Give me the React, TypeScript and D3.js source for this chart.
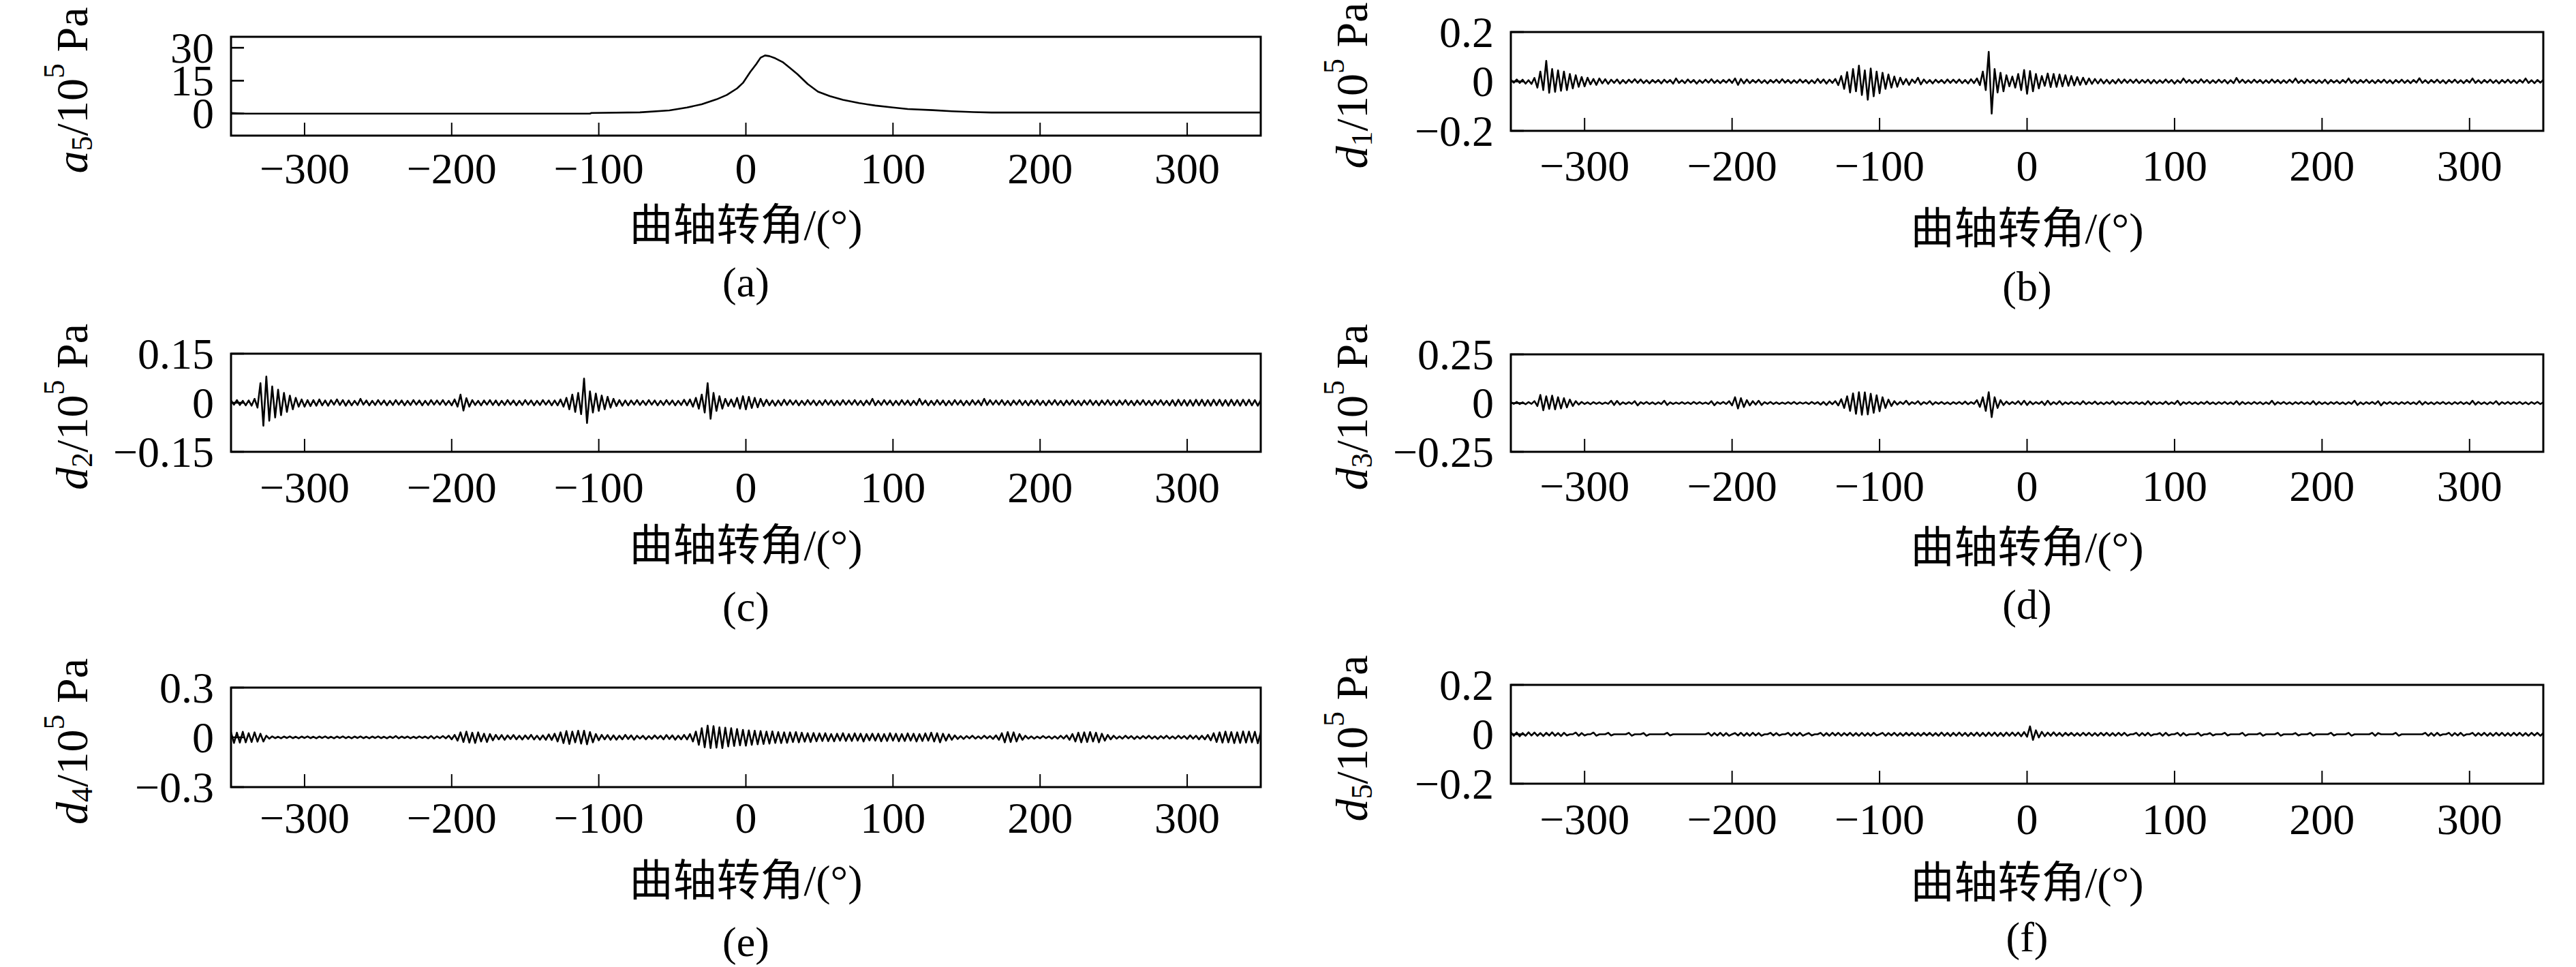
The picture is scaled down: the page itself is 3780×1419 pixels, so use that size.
import React, { useEffect, useRef } from "react";
import * as d3 from "d3";

const WIDTH = 3780;
const HEIGHT = 1419;

// crank angle axis (°)
const angleDomain: [number, number] = [-350, 350];
const angleTicks = [-300, -200, -100, 0, 100, 200, 300];

// approximation a5 (10^5 Pa)
const a5Angles = [-350, -340, -106, -105, -72, -52, -40, -30, -20, -13, -6, -2, 3, 7, 10, 13, 16, 20, 25, 30, 35, 42, 49, 57, 66, 77, 88, 100, 110, 127, 140, 155, 167, 200, 350];
const a5Values = [0.3, 0.0, 0.0, 0.3, 0.6, 1.5, 2.8, 4.3, 6.5, 8.5, 11.5, 14, 19, 22.5, 25.5, 26.5, 26.2, 25.2, 23.5, 20.8, 18, 13.5, 10, 8, 6.3, 4.8, 3.7, 2.8, 2.1, 1.6, 1.1, 0.7, 0.5, 0.5, 0.5];

// details d1..d5, one sample every 2° from -350° to 350°, in 10^-3 x 10^5 Pa
const detailStart = -350;
const detailStep = 2;

const d1Values = [
  6, -5, 8, -6, 7, -9, 5, -10, 14, -25,
  40, -35, 83, -46, 50, -42, 45, -38, 40, -35,
  30, -28, 25, -22, 18, -20, 15, -12, 10, -14,
  12, -8, 9, -10, 7, -6, 8, -9, 6, -7,
  7, -5, 9, -6, 8, -7, 5, -8, 6, -5,
  6, -8, 7, -5, 6, -9, 12, -6, 5, -7,
  8, -5, 6, -9, 5, -6, 7, -5, 9, -6,
  5, -7, 6, -5, 8, -6, 12, -14, 10, -8,
  8, -7, 6, -5, 7, -6, 5, -8, 6, -5,
  7, -6, 9, -5, 6, -7, 5, -6, 8, -5,
  6, -8, 5, -7, 10, -6, 8, -9, 7, -6,
  10, -15, 22, -30, 38, -45, 50, -40, 64, -55,
  45, -74, 52, -60, 40, -48, 35, -30, 28, -25,
  20, -22, 15, -12, 10, -14, 8, -6, 15, -12,
  8, -7, 6, -8, 7, -5, 6, -7, 8, -6,
  7, -6, 8, -7, 6, -8, 9, -7, 12, -15,
  40, -35, 120, -130, 50, -45, 35, -40, 25, -20,
  20, -25, 30, -35, 46, -50, 42, -40, 30, -28,
  22, -18, 32, -23, 30, -22, 28, -20, 25, -18,
  22, -16, 18, -14, 15, -12, 12, -10, 10, -8,
  9, -8, 7, -9, 6, -8, 9, -7, 8, -6,
  7, -6, 8, -7, 6, -5, 7, -8, 6, -7,
  5, -6, 8, -5, 6, -9, 5, -6, 12, -5,
  6, -7, 5, -6, 9, -5, 6, -7, 5, -6,
  7, -5, 6, -8, 5, -7, 14, -5, 7, -6,
  5, -6, 7, -5, 6, -7, 5, -6, 8, -5,
  6, -7, 5, -6, 7, -5, 12, -6, 5, -7,
  7, -5, 6, -7, 5, -6, 7, -8, 6, -5,
  5, -7, 6, -5, 12, -6, 5, -7, 6, -5,
  7, -6, 5, -7, 6, -5, 7, -6, 5, -8,
  6, -5, 7, -6, 5, -7, 6, -5, 13, -6,
  5, -7, 6, -5, 7, -6, 5, -8, 6, -5,
  7, -6, 5, -7, 6, -5, 12, -6, 5, -7,
  6, -5, 7, -6, 5, -8, 6, -5, 7, -6,
  5, -7, 6, -5, 12, -6, 5, -7, 6, -5,
  6,
];

const d2Values = [
  7, -6, 8, -7, 6, -8, 7, -9, 12, -15,
  60, -70, 80, -55, 50, -45, 40, -38, 30, -28,
  22, -20, 15, -12, 10, -12, 8, -10, 8, -9,
  10, -8, 7, -9, 8, -6, 10, -7, 8, -9,
  7, -8, 6, -7, 12, -6, 7, -8, 6, -7,
  8, -6, 7, -8, 6, -7, 8, -6, 7, -8,
  6, -7, 8, -6, 7, -8, 6, -7, 8, -6,
  7, -6, 8, -7, 6, -8, 10, -12, 25, -24,
  14, -12, 8, -7, 6, -8, 7, -6, 8, -7,
  7, -8, 6, -7, 8, -6, 7, -8, 6, -7,
  8, -6, 7, -8, 6, -7, 8, -6, 7, -8,
  7, -8, 10, -12, 15, -20, 25, -28, 30, -35,
  74, -62, 35, -30, 28, -25, 22, -20, 18, -15,
  12, -10, 8, -9, 7, -8, 7, -6, 8, -7,
  6, -7, 8, -6, 7, -8, 6, -7, 8, -6,
  7, -8, 6, -7, 9, -8, 10, -12, 15, -18,
  25, -30, 60, -49, 30, -25, 20, -18, 12, -10,
  10, -12, 15, -18, 20, -20, 18, -16, 15, -14,
  12, -10, 9, -8, 7, -9, 7, -8, 9, -7,
  8, -6, 7, -8, 6, -7, 8, -6, 7, -8,
  6, -7, 8, -6, 7, -8, 6, -7, 8, -6,
  7, -6, 8, -7, 6, -8, 7, -6, 12, -8,
  6, -7, 8, -6, 7, -8, 6, -7, 8, -6,
  7, -8, 6, -7, 12, -6, 7, -8, 6, -7,
  8, -6, 7, -8, 6, -7, 8, -6, 7, -8,
  6, -7, 8, -6, 7, -8, 12, -7, 8, -6,
  7, -6, 8, -7, 6, -8, 7, -6, 8, -7,
  6, -8, 7, -6, 8, -7, 6, -8, 7, -6,
  8, -7, 6, -8, 7, -6, 8, -7, 6, -8,
  7, -6, 8, -7, 6, -8, 7, -6, 8, -7,
  6, -8, 7, -6, 8, -7, 6, -8, 7, -6,
  8, -7, 6, -8, 7, -6, 8, -7, 6, -8,
  8, -9, 9, -8, 8, -9, 8, -9, 9, -8,
  9, -9, 8, -9, 9, -8, 9, -9, 8, -9,
  9, -8, 8, -9, 9, -8, 9, -8, 8, -9,
  8,
];

const d3Values = [
  5, -4, 6, -5, 4, -6, 5, -4, 10, -15,
  42, -37, 35, -30, 38, -32, 30, -28, 25, -22,
  18, -15, 10, -8, 6, -5, 4, -6, 5, -4,
  4, -5, 3, -4, 12, -10, 11, -8, 4, -5,
  5, -4, 10, -12, 5, -4, 6, -5, 4, -6,
  4, -5, 12, -10, 4, -5, 3, -4, 5, -4,
  4, -5, 6, -4, 5, -4, 3, -5, 10, -11,
  5, -4, 6, -5, 10, -12, 30, -28, 25, -20,
  15, -12, 10, -8, 12, -10, 5, -4, 6, -5,
  4, -5, 3, -4, 5, -4, 6, -5, 4, -3,
  4, -5, 6, -4, 5, -8, 6, -10, 8, -6,
  10, -12, 20, -25, 35, -40, 50, -55, 56, -60,
  55, -58, 48, -50, 40, -42, 30, -25, 18, -15,
  10, -8, 6, -5, 12, -8, 5, -4, 10, -8,
  5, -4, 10, -8, 5, -4, 6, -5, 4, -6,
  5, -4, 6, -5, 8, -6, 5, -4, 15, -20,
  30, -40, 56, -72, 30, -25, 15, -10, 8, -6,
  6, -5, 10, -8, 12, -10, 8, -6, 5, -4,
  8, -10, 12, -8, 5, -6, 10, -8, 4, -5,
  6, -5, 4, -7, 10, -6, 5, -4, 8, -6,
  4, -6, 5, -4, 10, -8, 5, -4, 6, -5,
  5, -4, 6, -5, 4, -7, 10, -8, 6, -5,
  4, -5, 8, -6, 4, -5, 12, -10, 5, -4,
  6, -5, 4, -6, 5, -4, 8, -5, 4, -6,
  5, -4, 6, -5, 4, -6, 10, -8, 6, -5,
  4, -5, 6, -4, 5, -6, 4, -5, 12, -8,
  5, -4, 6, -5, 4, -6, 5, -4, 6, -5,
  4, -6, 10, -8, 6, -5, 4, -6, 5, -4,
  6, -5, 4, -6, 5, -4, 12, -10, 4, -6,
  5, -4, 6, -5, 10, -12, 5, -4, 6, -5,
  4, -6, 5, -4, 6, -5, 4, -6, 10, -8,
  6, -5, 4, -6, 5, -4, 6, -5, 4, -6,
  5, -4, 6, -5, 4, -6, 12, -8, 6, -5,
  4, -6, 5, -4, 10, -8, 5, -4, 6, -5,
  5, -4, 6, -5, 4, -6, 5, -4, 6, -5,
  4,
];

const d4Values = [
  30, -34, 28, -32, 34, -30, 25, -28, 30, -26,
  22, -25, 10, -8, 6, -5, 4, -6, 5, -4,
  6, -5, 4, -6, 5, -4, 6, -5, 4, -6,
  5, -4, 6, -5, 4, -6, 5, -4, 6, -5,
  4, -6, 5, -4, 6, -5, 4, -6, 5, -4,
  6, -5, 4, -6, 5, -4, 8, -6, 5, -4,
  5, -6, 4, -5, 6, -4, 5, -6, 8, -7,
  6, -5, 8, -6, 10, -12, 15, -20, 30, -28,
  35, -32, 28, -34, 30, -25, 22, -28, 20, -18,
  15, -12, 14, -15, 12, -10, 14, -12, 10, -13,
  12, -10, 15, -13, 10, -14, 12, -15, 18, -16,
  22, -25, 30, -35, 38, -40, 35, -30, 40, -38,
  40, -42, 32, -30, 20, -18, 15, -12, 14, -15,
  12, -14, 10, -12, 15, -10, 12, -14, 10, -8,
  10, -12, 8, -10, 12, -8, 10, -12, 14, -10,
  12, -14, 10, -12, 15, -13, 20, -25, 35, -45,
  55, -60, 71, -65, 68, -62, 60, -65, 58, -55,
  55, -52, 50, -48, 45, -50, 42, -45, 40, -42,
  38, -40, 35, -38, 36, -34, 32, -35, 30, -33,
  30, -28, 32, -30, 28, -26, 25, -28, 26, -24,
  24, -22, 25, -23, 20, -24, 22, -20, 25, -22,
  20, -22, 24, -20, 22, -25, 20, -18, 22, -20,
  22, -24, 20, -22, 25, -20, 22, -24, 20, -22,
  24, -20, 22, -25, 20, -22, 24, -20, 28, -25,
  25, -30, 22, -20, 18, -15, 12, -10, 8, -10,
  8, -6, 10, -8, 6, -8, 10, -6, 8, -10,
  12, -15, 25, -30, 32, -28, 30, -25, 20, -15,
  10, -8, 6, -8, 5, -6, 8, -5, 6, -8,
  6, -8, 10, -8, 12, -15, 20, -25, 28, -30,
  30, -28, 32, -25, 28, -30, 22, -20, 15, -12,
  10, -8, 6, -8, 10, -6, 8, -10, 6, -8,
  8, -6, 10, -8, 6, -10, 8, -6, 10, -8,
  6, -8, 10, -6, 8, -10, 12, -8, 10, -12,
  10, -12, 15, -18, 25, -28, 30, -32, 35, -30,
  32, -35, 30, -34, 36, -32, 35, -30, 34, -36,
  30,
];

const d5Values = [
  8, -6, 7, -8, 5, -6, 8, -5, 7, -6,
  5, -7, 6, -5, 8, -6, 5, -7, 6, -5,
  0, 0, 7, -6, 5, -5, 0, 0, 7, -6,
  0, 0, 0, 6, -5, 0, 0, 0, 0, 0,
  6, -6, 0, 0, 0, 5, -6, 0, 0, 0,
  0, 0, 0, 6, -5, 0, 0, 0, 0, 0,
  0, 0, 0, 0, 0, 0, 0, 6, -6, 5,
  -5, 6, -6, 5, -6, 0, 5, -5, 6, -6,
  5, -6, 6, -5, 5, -6, 0, 0, 6, -5,
  5, -5, 0, 0, 6, -6, 5, -5, 6, -6,
  0, 5, -5, 0, 0, 6, -6, 5, -6, 6,
  -5, 6, -6, 5, -5, 6, -6, 5, -6, 6,
  -6, 5, -6, 6, -5, 0, 6, -6, 5, -5,
  6, -6, 5, -6, 6, -5, 6, -6, 5, -6,
  6, -5, 6, -6, 5, -6, 7, -6, 6, -7,
  6, -6, 7, -6, 6, -7, 6, -6, 7, -7,
  6, -7, 7, -6, 7, -7, 6, -7, 7, -6,
  7, -6, 7, -8, 9, -10, 32, -23, 16, -13,
  10, -8, 7, -6, 8, -6, 6, -7, 6, -5,
  6, -6, 5, -6, 6, -5, 6, -6, 5, -6,
  6, -5, 6, -6, 5, -6, 6, -5, 6, -6,
  0, 0, 6, -6, 5, -5, 6, -6, 0, 0,
  5, -6, 6, -5, 0, 0, 6, -6, 5, -5,
  0, 0, 0, 6, -6, 0, 0, 5, -5, 0,
  0, 0, 6, -5, 0, 0, 0, 0, 6, -6,
  0, 0, 0, 0, 5, -6, 0, 0, 0, 0,
  6, -6, 0, 0, 0, 0, 5, -5, 0, 0,
  0, 6, -6, 0, 0, 0, 0, 0, 6, -5,
  0, 0, 0, 0, 6, -6, 0, 0, 0, 0,
  0, 0, 6, -6, 5, 0, 0, 0, 0, 0,
  6, -6, 0, 0, 0, 0, 0, 0, 0, 0,
  6, -6, 5, -6, 6, -5, 0, 0, 6, -6,
  5, -5, 6, -6, 0, 0, 6, -6, 5, -5,
  6, -6, 5, -6, 6, -5, 6, -6, 5, -6,
  6, -5, 6, -6, 5, -6, 6, -5, 6, -6,
  5,
];

// y tick values (10^5 Pa)
const a5Ticks = [0, 15, 30];
const d1Ticks = [-0.2, 0, 0.2];
const d2Ticks = [-0.15, 0, 0.15];
const d3Ticks = [-0.25, 0, 0.25];
const d4Ticks = [-0.3, 0, 0.3];
const d5Ticks = [-0.2, 0, 0.2];

const xTitle = "曲轴转角/(°)";

type Panel = {
  id: string;
  sym: string;
  sub: string;
  domain: [number, number];
  ticks: number[];
  col: number;
  top: number;
  bottom: number;
  tickY: number;
  titleY: number;
  tagY: number;
  kind: "approx" | "detail";
  values: number[];
};

const panels: Panel[] = [
  { id: "a", sym: "a", sub: "5", domain: [-10, 35], ticks: a5Ticks, col: 0, top: 54, bottom: 199, tickY: 247, titleY: 330, tagY: 414, kind: "approx", values: a5Values },
  { id: "b", sym: "d", sub: "1", domain: [-0.2, 0.2], ticks: d1Ticks, col: 1, top: 47, bottom: 192, tickY: 243, titleY: 335, tagY: 420, kind: "detail", values: d1Values },
  { id: "c", sym: "d", sub: "2", domain: [-0.15, 0.15], ticks: d2Ticks, col: 0, top: 519, bottom: 663, tickY: 715, titleY: 800, tagY: 890, kind: "detail", values: d2Values },
  { id: "d", sym: "d", sub: "3", domain: [-0.25, 0.25], ticks: d3Ticks, col: 1, top: 520, bottom: 663, tickY: 713, titleY: 803, tagY: 887, kind: "detail", values: d3Values },
  { id: "e", sym: "d", sub: "4", domain: [-0.3, 0.3], ticks: d4Ticks, col: 0, top: 1009, bottom: 1155, tickY: 1200, titleY: 1292, tagY: 1382, kind: "detail", values: d4Values },
  { id: "f", sym: "d", sub: "5", domain: [-0.2, 0.2], ticks: d5Ticks, col: 1, top: 1005, bottom: 1150, tickY: 1202, titleY: 1295, tagY: 1375, kind: "detail", values: d5Values },
];

const columns = [
  { left: 339, right: 1850, labelX: 105 },
  { left: 2217, right: 3732, labelX: 1983 },
];

const SERIF = "'Liberation Serif', 'Times New Roman', serif";
const TITLE_FONT = "'Liberation Serif', 'Noto Sans CJK SC', serif";
const FONT_SIZE = 64;
const LABEL_SIZE = 66;

const fmt = (v: number) => (v < 0 ? "\u2212" + Math.abs(v) : String(v));

const App: React.FC = () => {
  const svgRef = useRef<SVGSVGElement>(null);

  useEffect(() => {
    if (!svgRef.current) return;
    const svg = d3.select(svgRef.current);
    svg.selectAll("*").remove();

    svg.append("rect").attr("width", WIDTH).attr("height", HEIGHT).attr("fill", "#ffffff");

    panels.forEach((p) => {
      const c = columns[p.col];
      const x = d3.scaleLinear().domain(angleDomain).range([c.left, c.right]);
      const y = d3.scaleLinear().domain(p.domain).range([p.bottom, p.top]);
      const g = svg.append("g");

      // clip to plot box
      const clipId = `clip-${p.id}`;
      g.append("clipPath")
        .attr("id", clipId)
        .append("rect")
        .attr("x", c.left)
        .attr("y", p.top)
        .attr("width", c.right - c.left)
        .attr("height", p.bottom - p.top);

      // signal
      let path: string | null;
      if (p.kind === "approx") {
        path = d3
          .line<number>()
          .x((_, i) => x(a5Angles[i]))
          .y((v) => y(v))(p.values);
      } else {
        path = d3
          .line<number>()
          .x((_, i) => x(detailStart + i * detailStep))
          .y((v) => y(v * 0.001))(p.values);
      }
      g.append("path")
        .attr("clip-path", `url(#${clipId})`)
        .attr("d", path)
        .attr("fill", "none")
        .attr("stroke", "#000")
        .attr("stroke-width", 2.6)
        .attr("stroke-linejoin", "round");

      // frame
      g.append("rect")
        .attr("x", c.left)
        .attr("y", p.top)
        .attr("width", c.right - c.left)
        .attr("height", p.bottom - p.top)
        .attr("fill", "none")
        .attr("stroke", "#000")
        .attr("stroke-width", 3);

      // x ticks (inward)
      g.selectAll(".xt")
        .data(angleTicks)
        .enter()
        .append("line")
        .attr("x1", (d) => x(d))
        .attr("x2", (d) => x(d))
        .attr("y1", p.bottom)
        .attr("y2", p.bottom - 19)
        .attr("stroke", "#000")
        .attr("stroke-width", 2);

      g.selectAll(".xl")
        .data(angleTicks)
        .enter()
        .append("text")
        .attr("x", (d) => x(d))
        .attr("y", p.tickY)
        .attr("text-anchor", "middle")
        .attr("dominant-baseline", "central")
        .attr("font-family", SERIF)
        .attr("font-size", FONT_SIZE)
        .text((d) => fmt(d));

      // y ticks (inward)
      g.selectAll(".yt")
        .data(p.ticks)
        .enter()
        .append("line")
        .attr("x1", c.left)
        .attr("x2", c.left + 19)
        .attr("y1", (d) => y(d))
        .attr("y2", (d) => y(d))
        .attr("stroke", "#000")
        .attr("stroke-width", 2.6);

      g.selectAll(".yl")
        .data(p.ticks)
        .enter()
        .append("text")
        .attr("x", c.left - 25)
        .attr("y", (d) => y(d))
        .attr("text-anchor", "end")
        .attr("dominant-baseline", "central")
        .attr("font-family", SERIF)
        .attr("font-size", FONT_SIZE)
        .text((d) => fmt(d));

      // x title
      const midX = (c.left + c.right) / 2;
      g.append("text")
        .attr("x", midX)
        .attr("y", p.titleY)
        .attr("text-anchor", "middle")
        .attr("dominant-baseline", "central")
        .attr("font-family", TITLE_FONT)
        .attr("font-size", FONT_SIZE)
        .text(xTitle);

      // sub-figure tag
      g.append("text")
        .attr("x", midX)
        .attr("y", p.tagY)
        .attr("text-anchor", "middle")
        .attr("dominant-baseline", "central")
        .attr("font-family", SERIF)
        .attr("font-size", 62)
        .text(`(${p.id})`);

      // y label, rotated
      const yl = g
        .append("text")
        .attr("transform", `translate(${c.labelX},${(p.top + p.bottom) / 2 + 6}) rotate(-90)`)
        .attr("text-anchor", "middle")
        .attr("dominant-baseline", "central")
        .attr("font-family", SERIF)
        .attr("font-size", LABEL_SIZE);
      yl.append("tspan").attr("font-style", "italic").text(p.sym);
      yl.append("tspan").attr("font-size", 44).attr("baseline-shift", -15).text(p.sub);
      yl.append("tspan").text("/10");
      yl.append("tspan").attr("font-size", 44).attr("baseline-shift", 26).text("5");
      yl.append("tspan").text("\u00a0Pa");
    });
  }, []);

  return (
    <svg
      ref={svgRef}
      width={WIDTH}
      height={HEIGHT}
      viewBox={`0 0 ${WIDTH} ${HEIGHT}`}
      style={{ position: "absolute", left: 0, top: 0, display: "block" }}
    />
  );
};

export default App;
